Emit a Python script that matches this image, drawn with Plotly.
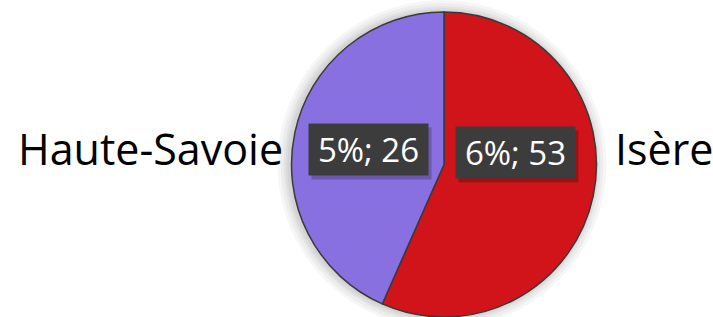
import plotly.graph_objects as go

# Data
categories = ["Isère", "Haute-Savoie"]
shares = [6.4, 4.9]          # estimated underlying percentages (slice sizes)
pct_labels = ["6%", "5%"]
counts = [53, 26]
colors = ["#D01419", "#8870E0"]

W, H = 713, 317

fig = go.Figure()

# pie geometry (pixels)
cx, cy, r = 444, 164.5, 152.5
dom_x = [(cx - r) / W, (cx + r) / W]
dom_y = [1 - (cy + r) / H, 1 - (cy - r) / H]
dom_y = [max(0, dom_y[0]), min(1, dom_y[1])]

fig.add_trace(go.Pie(
    labels=categories,
    values=shares,
    sort=False,
    direction="clockwise",
    rotation=0,
    marker=dict(colors=colors, line=dict(color="#3a3a3a", width=1.5)),
    textinfo="none",
    hoverinfo="label+value",
    showlegend=False,
    domain=dict(x=dom_x, y=dom_y),
))

# soft shadow behind the pie
shapes = []
for extra in [12, 9, 6, 4, 2]:
    rr = r + extra
    shapes.append(dict(
        type="circle", xref="paper", yref="paper", layer="below",
        x0=(cx - rr - 2) / W, x1=(cx + rr - 2) / W,
        y0=1 - (cy + rr) / H, y1=1 - (cy - rr) / H,
        fillcolor="rgba(0,0,0,0.035)", line=dict(width=0),
    ))

annotations = []
# data label boxes (with a small drop shadow)
box_pos = {"Isère": (515.5, 152), "Haute-Savoie": (368.5, 149.5)}
for cat, p, c in zip(categories, pct_labels, counts):
    bx, by = box_pos[cat]
    annotations.append(dict(
        x=(bx + 3) / W, y=1 - (by + 4) / H, xref="paper", yref="paper",
        text="", showarrow=False, width=112, height=44, borderpad=3.5,
        bgcolor="rgba(0,0,0,0.22)", xanchor="center", yanchor="middle",
    ))
    annotations.append(dict(
        x=bx / W, y=1 - by / H, xref="paper", yref="paper",
        text=f"{p}; {c}", showarrow=False,
        font=dict(family="Open Sans", size=33, color="white"),
        bgcolor="#3c3c3c", borderpad=3.5, width=112, height=44,
        align="center", valign="middle",
        xanchor="center", yanchor="middle",
    ))
# category labels outside
lab_pos = {"Isère": (664, 148), "Haute-Savoie": (150, 148)}
for cat in categories:
    lx, ly = lab_pos[cat]
    annotations.append(dict(
        x=lx / W, y=1 - ly / H, xref="paper", yref="paper",
        text=cat, showarrow=False,
        font=dict(family="Open Sans", size=43, color="black"),
        xanchor="center", yanchor="middle",
    ))

fig.update_layout(
    width=W, height=H,
    margin=dict(l=0, r=0, t=0, b=0),
    paper_bgcolor="white",
    plot_bgcolor="white",
    shapes=shapes,
    annotations=annotations,
)

fig.write_html("out.html", config={"displayModeBar": False},
               post_script="document.body.style.margin='0';")
